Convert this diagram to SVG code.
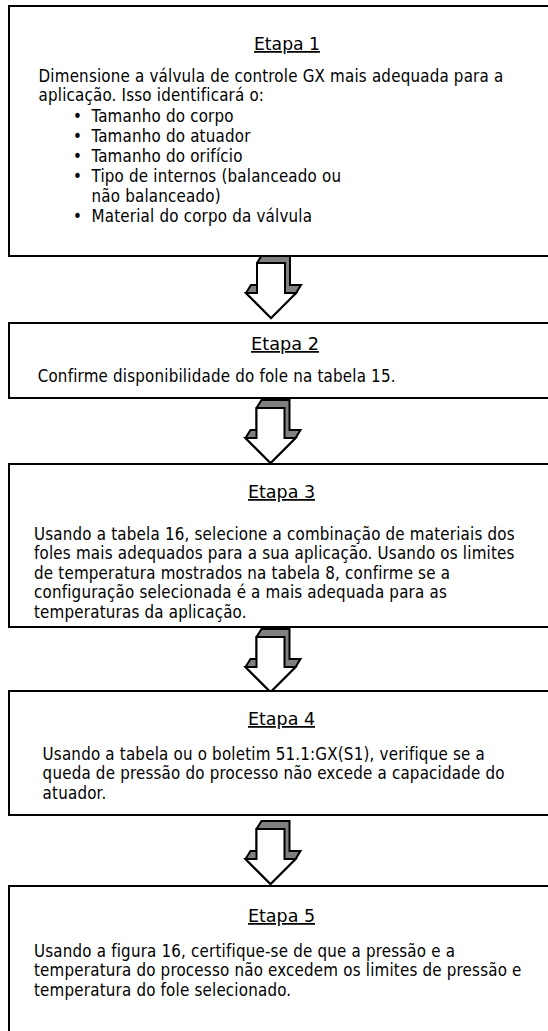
<svg xmlns="http://www.w3.org/2000/svg" xmlns:xlink="http://www.w3.org/1999/xlink" width="548" height="1031" viewBox="0 0 548 1031">
<style>
.box{fill:#fff;stroke:#000;stroke-width:2}
.t{font-family:"DejaVu Sans Condensed","DejaVu Sans",sans-serif;font-stretch:condensed;font-size:16.8px;letter-spacing:0.2px;fill:#000}
.h{font-family:"DejaVu Sans Condensed","DejaVu Sans",sans-serif;font-stretch:condensed;font-size:17.5px;fill:#000;text-decoration:underline}
.back{fill:#808080;stroke:#000;stroke-width:2;stroke-linejoin:miter}
.front{fill:#fff;stroke:#000;stroke-width:2;stroke-linejoin:miter}
</style>
<defs>
<g id="blockArrow">
<polygon class="back" points="-25,30 -20,22 -14,22 -14,0 -9,-8 19,-8 19,22 30,22 25,30 0,55"/>
<polygon class="front" points="-14,0 14,0 14,30 25,30 0,55 -25,30 -14,30"/>
</g>
</defs>
<rect width="548" height="1031" fill="#fff"/>
<g id="connectors">
<use xlink:href="#blockArrow" x="271" y="263"/>
<use xlink:href="#blockArrow" x="270.5" y="408"/>
<use xlink:href="#blockArrow" x="270.5" y="637"/>
<use xlink:href="#blockArrow" x="270.5" y="829"/>
</g>
<g id="etapa1">
<rect class="box" x="9" y="6" width="560" height="250"/>
<text class="h" x="254" y="50" textLength="66" lengthAdjust="spacingAndGlyphs">Etapa 1</text>
<text class="t" x="38.5" y="81.5">Dimensione a válvula de controle GX mais adequada para a</text>
<text class="t" x="38.5" y="101.1">aplicação. Isso identificará o:</text>
<text class="t" x="73" y="121.5">•</text><text class="t" x="91.5" y="121.5">Tamanho do corpo</text>
<text class="t" x="73" y="141.5">•</text><text class="t" x="91.5" y="141.5">Tamanho do atuador</text>
<text class="t" x="73" y="161.5">•</text><text class="t" x="91.5" y="161.5">Tamanho do orifício</text>
<text class="t" x="73" y="181.5">•</text><text class="t" x="91.5" y="181.5">Tipo de internos (balanceado ou</text>
<text class="t" x="91.5" y="201.5">não balanceado)</text>
<text class="t" x="73" y="221.5">•</text><text class="t" x="91.5" y="221.5">Material do corpo da válvula</text>
</g>
<g id="etapa2">
<rect class="box" x="9" y="323" width="560" height="75"/>
<text class="h" x="251" y="350" textLength="68" lengthAdjust="spacingAndGlyphs">Etapa 2</text>
<text class="t" x="37.7" y="382">Confirme disponibilidade do fole na tabela 15.</text>
</g>
<g id="etapa3">
<rect class="box" x="9" y="464" width="560" height="163"/>
<text class="h" x="248" y="498" textLength="67" lengthAdjust="spacingAndGlyphs">Etapa 3</text>
<text class="t" x="34" y="539.5">Usando a tabela 16, selecione a combinação de materiais dos</text>
<text class="t" x="34" y="559.1">foles mais adequados para a sua aplicação. Usando os limites</text>
<text class="t" x="34" y="578.7">de temperatura mostrados na tabela 8, confirme se a</text>
<text class="t" x="34" y="598.3">configuração selecionada é a mais adequada para as</text>
<text class="t" x="34" y="617.9">temperaturas da aplicação.</text>
</g>
<g id="etapa4">
<rect class="box" x="9" y="691" width="560" height="124"/>
<text class="h" x="248" y="725" textLength="67" lengthAdjust="spacingAndGlyphs">Etapa 4</text>
<text class="t" x="42.6" y="759.5">Usando a tabela ou o boletim 51.1:GX(S1), verifique se a</text>
<text class="t" x="42.6" y="779.1">queda de pressão do processo não excede a capacidade do</text>
<text class="t" x="42.6" y="798.7">atuador.</text>
</g>
<g id="etapa5">
<rect class="box" x="9" y="886" width="560" height="160"/>
<text class="h" x="248" y="922" textLength="67" lengthAdjust="spacingAndGlyphs">Etapa 5</text>
<text class="t" x="34" y="956.5">Usando a figura 16, certifique-se de que a pressão e a</text>
<text class="t" x="34" y="976.1">temperatura do processo não excedem os limites de pressão e</text>
<text class="t" x="34" y="995.7">temperatura do fole selecionado.</text>
</g>
</svg>
